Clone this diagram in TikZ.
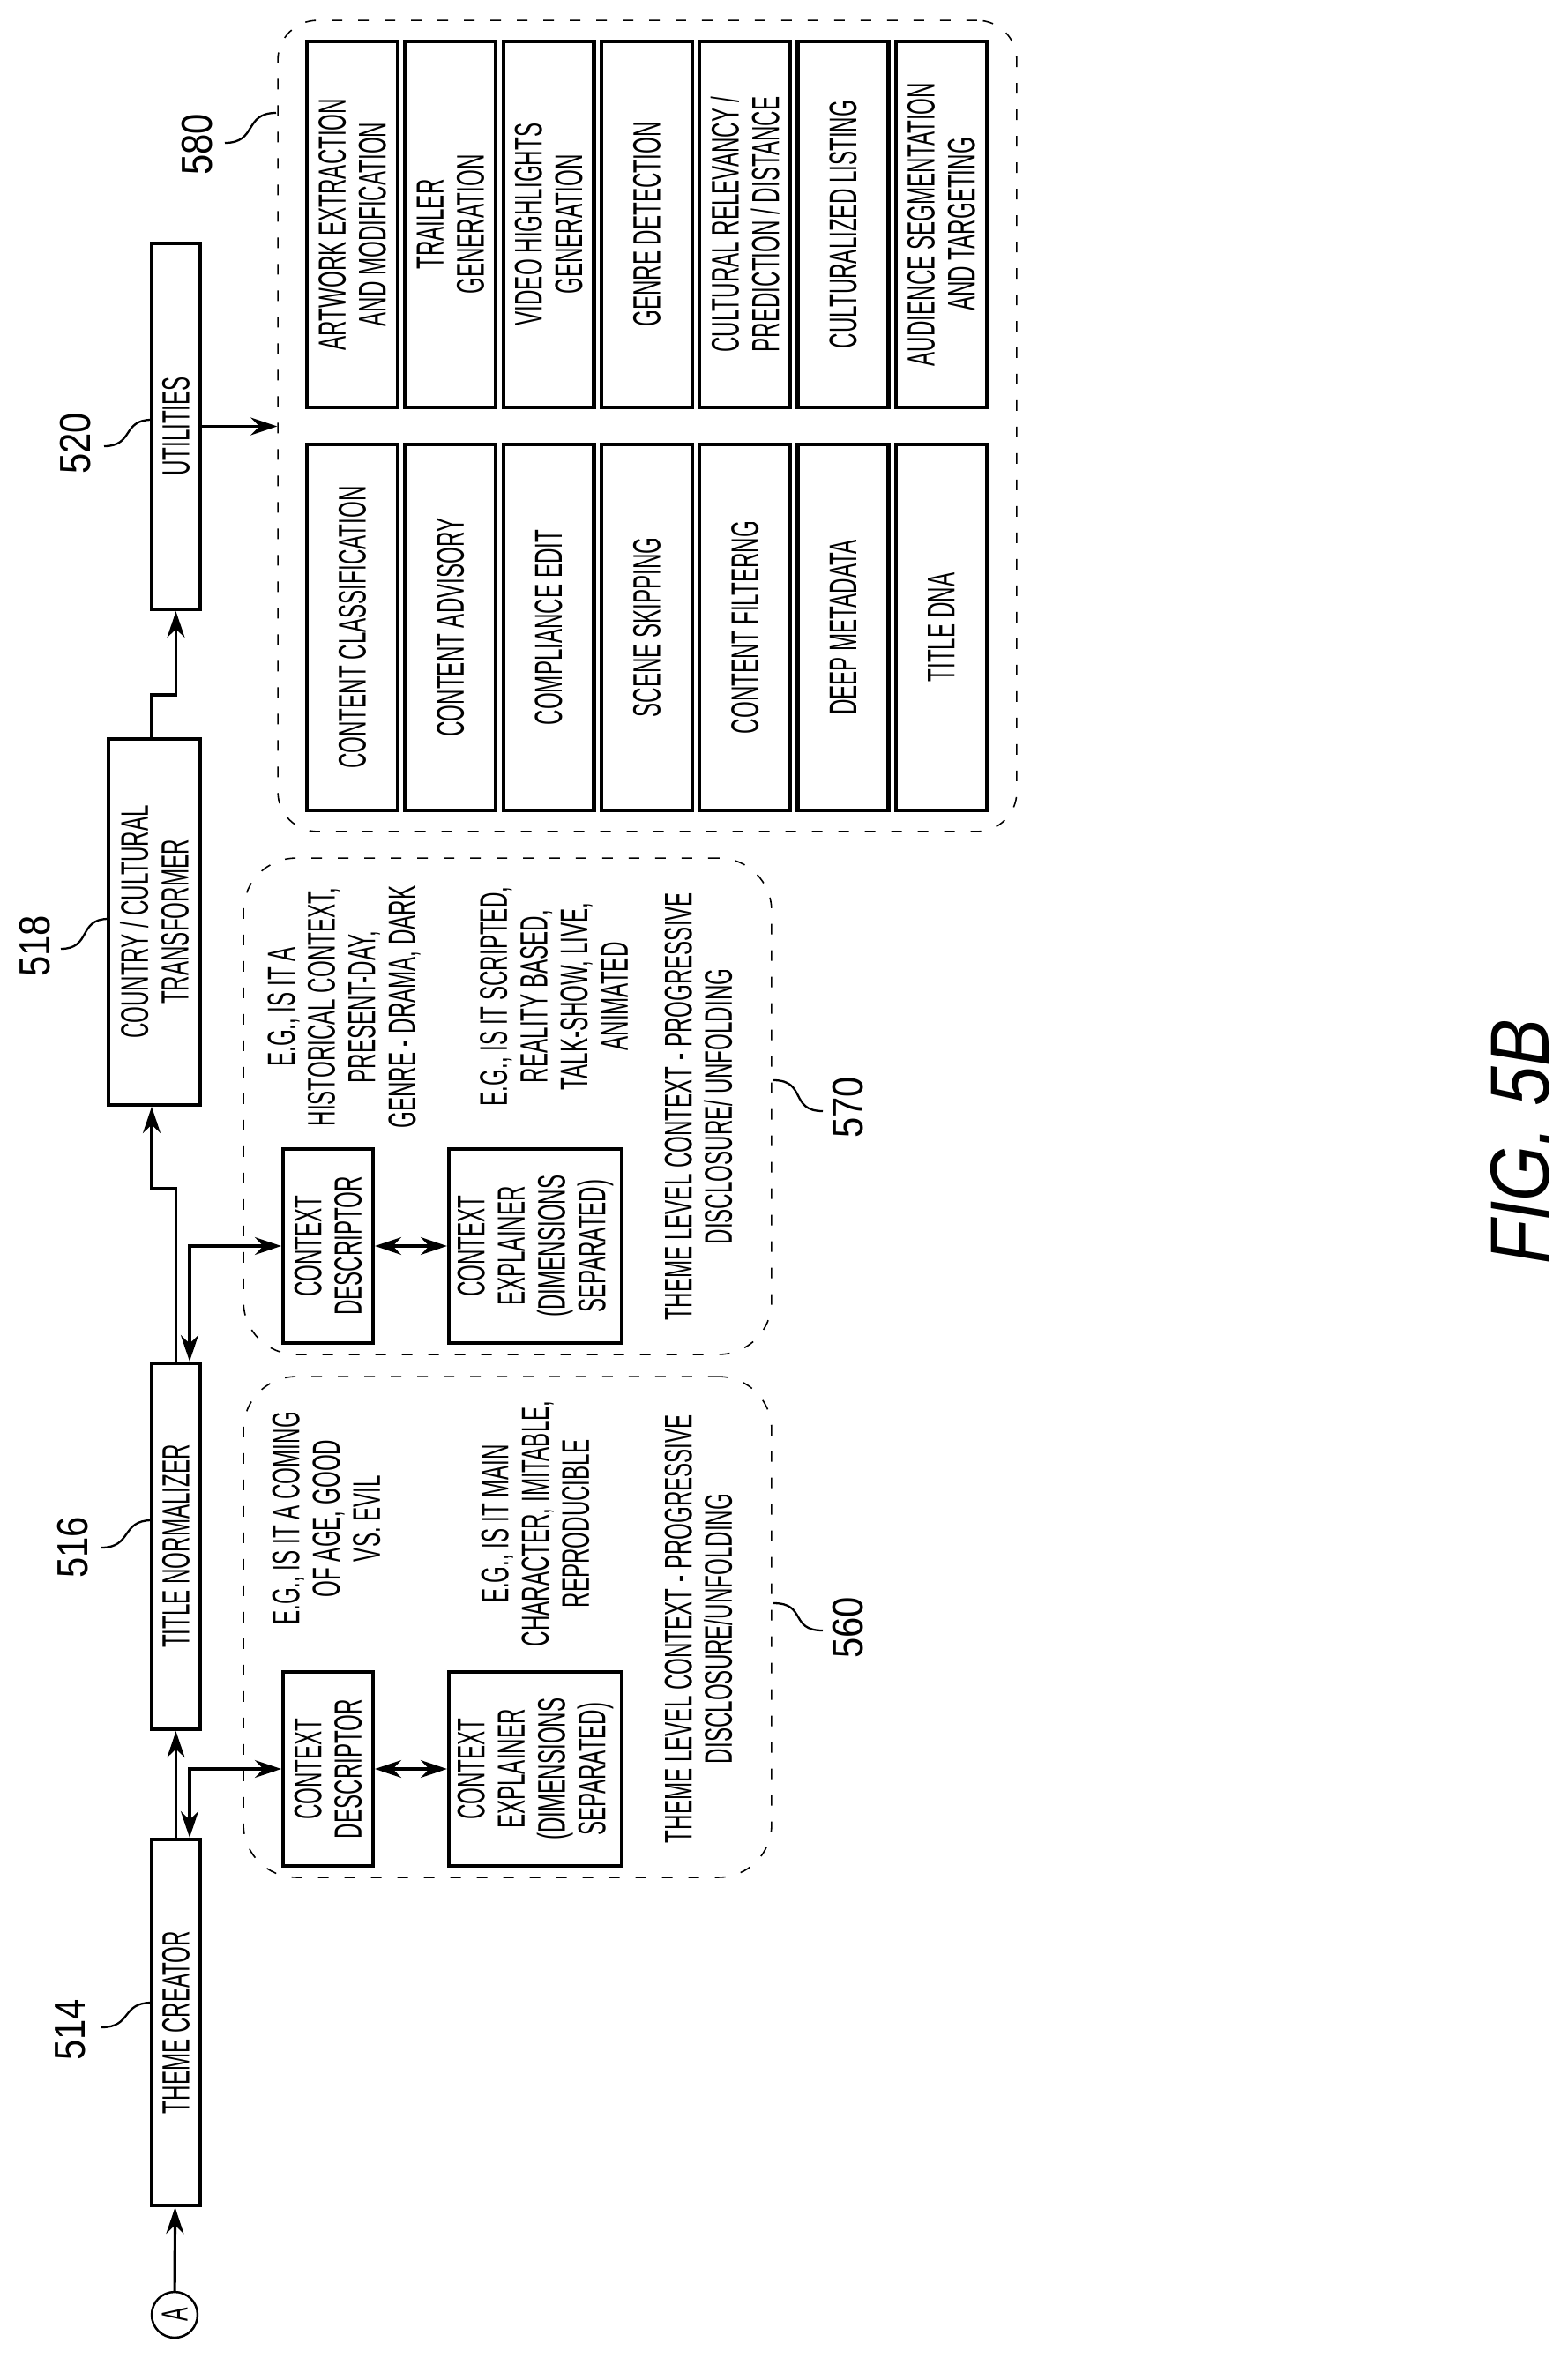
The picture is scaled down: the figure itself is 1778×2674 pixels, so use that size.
\documentclass[tikz,border=0pt]{standalone}
\usepackage{fontspec}
\setmainfont{Liberation Sans}[FakeStretch=0.55]
\newfontfamily\numfont{Liberation Sans}[FakeStretch=0.85]
\usetikzlibrary{arrows.meta}
\tikzset{
  txt/.style={rotate=90, align=center, inner sep=0pt, font=\fontsize{25}{26}\selectfont},
  bar/.style={txt, draw, line width=2.4pt, minimum width=8.3cm, minimum height=1.1cm},
  util/.style={bar, minimum height=2.06cm},
  ctx/.style={txt, draw, line width=2.4pt, minimum width=4.4cm, minimum height=2.04cm},
  grp/.style={draw, line width=0.9pt, dash pattern=on 0.24cm off 0.36cm, rounded corners=1.2cm},
  num/.style={rotate=90, inner sep=0pt, font=\numfont\fontsize{28}{30}\selectfont},
  arr/.style={line width=1.8pt, -{Stealth[length=0.6cm, width=0.4cm]}},
  dbl/.style={line width=1.8pt, {Stealth[length=0.6cm, width=0.4cm]}-{Stealth[length=0.6cm, width=0.4cm]}},
  lead/.style={line width=1.3pt}
}
\begin{document}
\begin{tikzpicture}[x=0.02cm, y=-0.02cm]
\useasboundingbox (0,0) rectangle (1778,2674);
%\draw [lightgray] (0,0) grid[step=100] (1778,2674);

% main chain
\node [draw, circle, line width=1.4pt, minimum size=1.04cm, inner sep=0pt, rotate=90, font=\fontsize{24}{26}\selectfont] (A) at (198,2625) {A};
\node [bar] (tc) at (199.5,2293.5) {THEME CREATOR};
\node [bar] (tn) at (199.5,1753.5) {TITLE NORMALIZER};
\node [bar, minimum height=2.08cm] (ct) at (175,1045.5) {COUNTRY / CULTURAL\\TRANSFORMER};
\node [bar] (ut) at (199.5,483.5) {UTILITIES};

\node [num] at ( 80,2302) {514};
\node [num] at ( 83,1755) {516};
\node [num] at ( 40,1073) {518};
\node [num] at ( 86, 503) {520};
\draw [lead] (115,2299) .. controls (150,2299) and (137,2271) .. (172,2271);
\draw [lead] (115,1755) .. controls (150,1755) and (137,1724) .. (172,1724);
\draw [lead] ( 69,1076) .. controls (104,1076) and ( 88,1042) .. (123,1042);
\draw [lead] (118, 506) .. controls (152, 506) and (138, 476) .. (172, 476);

% group 580
\node [grp, minimum width=16.76cm, minimum height=18.4cm, rounded corners=0.9cm] (g580) at (734,483) {};
\node [num] at (224,164) {580};
\draw [lead] (255,162) .. controls (292,162) and (276,128) .. (313,128);

\node [util] (u1) at (399.5,254.5) {ARTWORK EXTRACTION\\AND MODIFICATION};
\node [util] (u2) at (510.8,254.5) {TRAILER\\GENERATION};
\node [util] (u3) at (622.1,254.5) {VIDEO HIGHLIGHTS\\GENERATION};
\node [util] (u4) at (733.4,254.5) {GENRE DETECTION};
\node [util] (u5) at (844.7,254.5) {CULTURAL RELEVANCY /\\PREDICTION / DISTANCE};
\node [util] (u6) at (956.0,254.5) {CULTURALIZED LISTING};
\node [util] (u7) at (1067.3,254.5) {AUDIENCE SEGMENTATION\\AND TARGETING};
\node [util] (v1) at (399.5,711.5) {CONTENT CLASSIFICATION};
\node [util] (v2) at (510.8,711.5) {CONTENT ADVISORY};
\node [util] (v3) at (622.1,711.5) {COMPLIANCE EDIT};
\node [util] (v4) at (733.4,711.5) {SCENE SKIPPING};
\node [util] (v5) at (844.7,711.5) {CONTENT FILTERNG};
\node [util] (v6) at (956.0,711.5) {DEEP METADATA};
\node [util] (v7) at (1067.3,711.5) {TITLE DNA};

% group 570
\node [grp, minimum width=11.98cm, minimum height=11.26cm] (g570) at (575.5,1254.5) {};
\node [ctx] (cd1) at (372,1413) {CONTEXT\\DESCRIPTOR};
\node [ctx, minimum height=3.92cm] (ce1) at (607,1413) {CONTEXT\\EXPLAINER\\(DIMENSIONS\\SEPARATED)};
\node [txt] (d1) at (390,1142) {E.G., IS IT A\\HISTORICAL CONTEXT,\\PRESENT-DAY,\\GENRE - DRAMA, DARK};
\node [txt] (e1) at (628,1130) {E.G., IS IT SCRIPTED,\\REALITY BASED,\\TALK-SHOW, LIVE,\\ANIMATED};
\node [txt] (t1) at (792,1255) {THEME LEVEL CONTEXT - PROGRESSIVE\\DISCLOSURE/ UNFOLDING};
\node [num] at (962,1256) {570};
\draw [lead] (877,1225) .. controls (915,1225) and (895,1260) .. (933,1260);

% group 560
\node [grp, minimum width=11.98cm, minimum height=11.36cm] (g560) at (575.5,1845) {};
\node [ctx] (cd2) at (372,2006) {CONTEXT\\DESCRIPTOR};
\node [ctx, minimum height=3.92cm] (ce2) at (607,2006) {CONTEXT\\EXPLAINER\\(DIMENSIONS\\SEPARATED)};
\node [txt] (d2) at (370,1722) {E.G., IS IT A COMING\\OF AGE, GOOD\\VS. EVIL};
\node [txt] (e2) at (607,1728) {E.G., IS IT MAIN\\CHARACTER, IMITABLE,\\REPRODUCIBLE};
\node [txt] (t2) at (792,1847) {THEME LEVEL CONTEXT - PROGRESSIVE\\DISCLOSURE/UNFOLDING};
\node [num] at (962,1846) {560};
\draw [lead] (877,1818) .. controls (915,1818) and (895,1849) .. (933,1849);

% connectors
\coordinate (jog1) at (172,1348);
\coordinate (jog2) at (199.5,788);
\draw [arr] (A) -- (tc);
\draw [arr] (tc.east) -- (tn.west);
\draw [dbl] (cd2.north) -| ([xshift=0.31cm]tc.east);
\draw [dbl] (cd2.south) -- (ce2.north);
\draw [arr] (tn.east) |- (jog1) -- (jog1 |- ct.west);
\draw [dbl] (cd1.north) -| ([xshift=0.31cm]tn.east);
\draw [dbl] (cd1.south) -- (ce1.north);
\draw [arr] (jog1 |- ct.east) |- (jog2) -- (ut.west);
\draw [arr] (ut.south) -- (ut.south -| g580.west);

\node [rotate=90, inner sep=0pt, font=\numfont\itshape\fontsize{54}{56}\selectfont] (fig) at (1724,1295) {FIG. 5B};
\end{tikzpicture}
\end{document}
